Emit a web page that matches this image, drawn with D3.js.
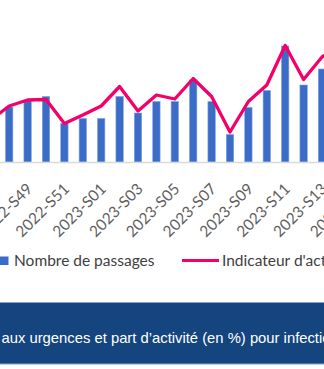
<!DOCTYPE html>
<html>
<head>
<meta charset="utf-8">
<script src="https://cdn.jsdelivr.net/npm/d3@7"></script>
<style>
  html, body { margin: 0; padding: 0; background: #fff; overflow: hidden; }
  svg { display: block; }
</style>
</head>
<body>
<svg id="chart" width="324" height="369"></svg>
<script>
// Weekly categories (ISO weeks)
const weeks = [
  "2022-S47", "2022-S48", "2022-S49", "2022-S50", "2022-S51", "2022-S52",
  "2023-S01", "2023-S02", "2023-S03", "2023-S04", "2023-S05", "2023-S06",
  "2023-S07", "2023-S08", "2023-S09", "2023-S10", "2023-S11", "2023-S12",
  "2023-S13", "2023-S14", "2023-S15"
];

// Number of emergency visits per week (bars, left axis)
const passages = [
  95, 110, 122, 131, 77, 87,
  87, 131, 98, 121, 121, 164,
  121, 55, 109, 143, 232, 154,
  186, 200, 190
];

// Share of activity in % (line, right axis)
const indicateur = [
  0.84, 1.12, 1.24, 1.25, 0.77, 0.94,
  1.12, 1.51, 1.02, 1.34, 1.26, 1.67,
  1.31, 0.60, 1.21, 1.54, 2.33, 1.65,
  2.10, 2.34, 2.20
];

// Every other week gets a tick label
const tickLabels = weeks.filter((d, i) => i % 2 === 0);

const legendLabels = ["Nombre de passages", "Indicateur d'activité (%)"];
const titleText = "aux urgences et part d\u2019activité (en %) pour infections respiratoires aiguës basses";

const svg = d3.select("#chart");

const baseY = 162, topY = 12;
const step = 18.4;

const x = d3.scaleBand()
  .domain(weeks)
  .range([-step, -step + weeks.length * step])
  .paddingInner(0.6)
  .paddingOuter(0.3);

const yBars = d3.scaleLinear().domain([0, 300]).range([baseY, topY]);
const yLine = d3.scaleLinear().domain([0, 3]).range([baseY, topY]);

// Bars
svg.append("g")
  .selectAll("rect")
  .data(weeks)
  .join("rect")
  .attr("x", d => x(d))
  .attr("width", x.bandwidth())
  .attr("y", (d, i) => yBars(passages[i]))
  .attr("height", (d, i) => baseY - yBars(passages[i]))
  .attr("fill", "#3b6cc8")
  .attr("stroke", "#7fa1e0")
  .attr("stroke-width", 0.6);

// Category axis baseline and labels
const xAxis = d3.axisBottom(x)
  .tickValues(tickLabels)
  .tickSize(0)
  .tickPadding(0);

const axisG = svg.append("g")
  .attr("transform", `translate(0,${baseY})`)
  .call(xAxis);

axisG.select(".domain")
  .attr("d", "M0,0.5H324")
  .attr("stroke", "#d9d9d9")
  .attr("stroke-width", 1.5);

axisG.selectAll(".tick text")
  .attr("font-family", "Lato, 'Open Sans', sans-serif")
  .attr("font-size", 15.5)
  .attr("fill", "#5f5f5f")
  .attr("text-anchor", "end")
  .attr("y", 0)
  .attr("dy", "0.35em")
  .attr("transform", "translate(2,24) rotate(-45)");

// Activity share line
const line = d3.line()
  .x((d, i) => x(weeks[i]) + x.bandwidth() / 2)
  .y(d => yLine(d));

svg.append("path")
  .datum(indicateur)
  .attr("d", line)
  .attr("fill", "none")
  .attr("stroke", "#f5006b")
  .attr("stroke-width", 3.3)
  .attr("stroke-linejoin", "round")
  .attr("stroke-linecap", "round");

// Legend
const legend = svg.append("g")
  .attr("font-family", "Lato, 'Open Sans', sans-serif")
  .attr("font-size", 15.5)
  .attr("fill", "#404040");

legend.append("rect")
  .attr("x", 0).attr("y", 256.5)
  .attr("width", 8.5).attr("height", 8.5)
  .attr("fill", "#3b6cc8");

legend.append("text")
  .attr("x", 14).attr("y", 266)
  .text(legendLabels[0]);

legend.append("line")
  .attr("x1", 182).attr("x2", 219)
  .attr("y1", 260.5).attr("y2", 260.5)
  .attr("stroke", "#f5006b")
  .attr("stroke-width", 3);

legend.append("text")
  .attr("x", 222).attr("y", 266)
  .text(legendLabels[1]);

// Title band
svg.append("rect")
  .attr("x", -2).attr("y", 302.5)
  .attr("width", 330).attr("height", 61.5)
  .attr("fill", "#15457f")
  .attr("stroke", "#8ea3c2")
  .attr("stroke-width", 1);

svg.append("text")
  .attr("x", 1.5).attr("y", 343)
  .attr("font-family", "'Liberation Sans', Arial, sans-serif")
  .attr("font-size", 14.8)
  .attr("fill", "#ffffff")
  .text(titleText);
</script>
</body>
</html>
